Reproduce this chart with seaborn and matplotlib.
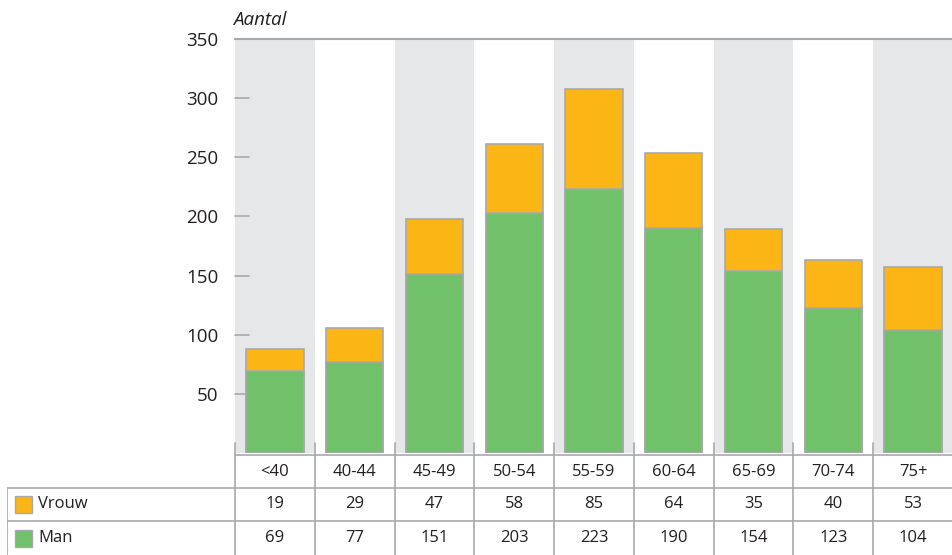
import matplotlib
matplotlib.use("Agg")
import matplotlib.pyplot as plt
from matplotlib.patches import Rectangle
import seaborn as sns
import pandas as pd

# Age groups and counts per sex
age_groups = ["<40", "40-44", "45-49", "50-54", "55-59", "60-64", "65-69", "70-74", "75+"]
vrouw = [19, 29, 47, 58, 85, 64, 35, 40, 53]
man = [69, 77, 151, 203, 223, 190, 154, 123, 104]
y_ticks = [50, 100, 150, 200, 250, 300, 350]

ORANGE = "#FBB615"
GREEN = "#70C169"
BAND = "#E6E7E8"
EDGE = "#A7A9AC"
LINE = "#A7A9AC"
TEXT = "#231F20"

sns.set_style("white")
plt.rcParams["font.family"] = ["Open Sans", "DejaVu Sans"]

W, H = 953, 555
fig = plt.figure(figsize=(W / 100, H / 100), dpi=100)

# pixel layout helpers
x0, x1 = 235, 953
y_base, y_top = 453, 39
ax = fig.add_axes([x0 / W, 1 - y_base / H, (x1 - x0) / W, (y_base - y_top) / H])

df = pd.DataFrame({"groep": age_groups, "Man": man, "Vrouw": vrouw})
df["Totaal"] = df["Man"] + df["Vrouw"]

# alternating background bands
for i in range(0, len(age_groups), 2):
    ax.axvspan(i - 0.5, i + 0.5, color=BAND, lw=0, zorder=0)

sns.barplot(data=df, x="groep", y="Totaal", color=ORANGE, width=0.72,
            edgecolor=EDGE, linewidth=1.2, saturation=1, ax=ax, zorder=2)
sns.barplot(data=df, x="groep", y="Man", color=GREEN, width=0.72,
            edgecolor=EDGE, linewidth=1.2, saturation=1, ax=ax, zorder=3)

ax.set_xlim(-0.5, len(age_groups) - 0.5)
ax.set_ylim(0, 350)
ax.set_xlabel("")
ax.set_ylabel("")
ax.set_xticks([])
ax.set_yticks(y_ticks)
ax.set_yticklabels([str(t) for t in y_ticks], fontsize=13.5, color=TEXT)
ax.tick_params(axis="y", length=0, pad=12)
for s in ["left", "right", "bottom"]:
    ax.spines[s].set_visible(False)
ax.spines["top"].set_color(LINE)
ax.spines["top"].set_linewidth(1.5)

# short gridline stubs at each tick
for t in y_ticks[:-1]:
    ax.plot([-0.5, -0.32], [t, t], color=LINE, lw=1.2, zorder=1, clip_on=False)

ax.text(-0.003, 1.025, "Aantal", transform=ax.transAxes,
        fontsize=13.5, style="italic", color=TEXT, ha="left", va="bottom")

# data table below the bars
tx0 = 7
col_w = (x1 - x0) / len(age_groups)
left_edge = -0.5 - (x0 - tx0) / col_w
tab_top = 441
tab = fig.add_axes([tx0 / W, 0, (x1 - tx0) / W, (H - tab_top) / H])
tab.set_xlim(left_edge, len(age_groups) - 0.5)
tab.set_ylim(H, tab_top)
tab.axis("off")
tab.patch.set_alpha(0)

row_cat, row_v, row_m = (455, 488), (488, 521), (521, 556)
for k in range(len(age_groups) + 1):
    tab.plot([k - 0.5, k - 0.5], [tab_top + 2, H], color=LINE, lw=1.2)
tab.plot([-0.5, len(age_groups) - 0.5], [row_cat[0], row_cat[0]], color=LINE, lw=1.2)
tab.plot([left_edge, len(age_groups) - 0.5], [row_v[0], row_v[0]], color=LINE, lw=1.2)
tab.plot([left_edge, len(age_groups) - 0.5], [row_m[0], row_m[0]], color=LINE, lw=1.2)
tab.plot([left_edge + 0.005, left_edge + 0.005], [row_v[0], H], color=LINE, lw=1.2)

FS = 12
for i, g in enumerate(age_groups):
    tab.text(i, sum(row_cat) / 2, g, ha="center", va="center", fontsize=FS, color=TEXT)
    tab.text(i, sum(row_v) / 2, str(vrouw[i]), ha="center", va="center", fontsize=FS, color=TEXT)
    tab.text(i, sum(row_m) / 2, str(man[i]), ha="center", va="center", fontsize=FS, color=TEXT)

# legend swatches in the first column
sw = 17 / col_w
for (r0, r1), label, c in [(row_v, "Vrouw", ORANGE), (row_m, "Man", GREEN)]:
    cy = (r0 + r1) / 2
    xs = left_edge + 8 / col_w
    tab.add_patch(Rectangle((xs, cy - 8.5), sw, 17, facecolor=c, edgecolor=EDGE, lw=1))
    tab.text(xs + sw + 6 / col_w, cy, label, ha="left", va="center", fontsize=FS, color=TEXT)

fig.savefig("out.png", dpi=100)
